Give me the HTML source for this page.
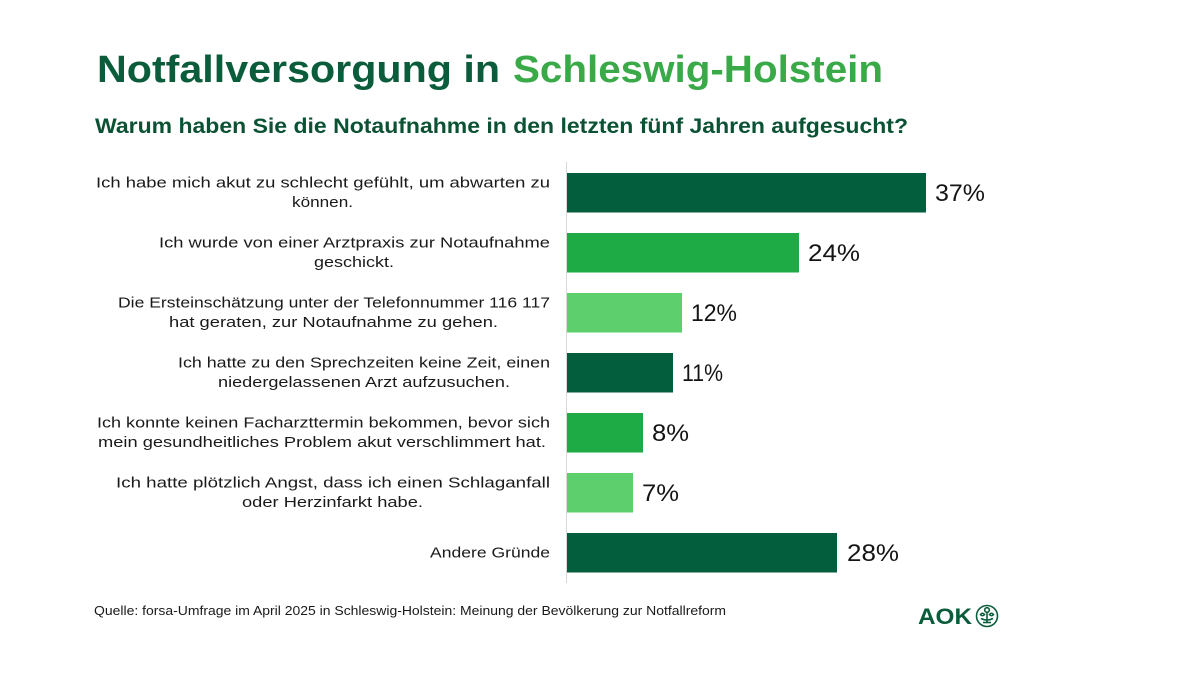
<!DOCTYPE html>
<html>
<head>
<meta charset="utf-8">
<style>
  html, body { margin: 0; padding: 0; background: #ffffff; }
  svg { display: block; }
  text { font-family: "Liberation Sans", "DejaVu Sans", sans-serif; }
</style>
</head>
<body>
<svg width="1200" height="675" viewBox="0 0 1200 675" xmlns="http://www.w3.org/2000/svg">
  <rect x="0" y="0" width="1200" height="675" fill="#ffffff"/>

  <!-- Title -->
  <text x="97" y="82" font-size="38" font-weight="bold" fill="#0A5C3A" textLength="403" lengthAdjust="spacingAndGlyphs">Notfallversorgung in</text>
  <text x="513" y="82" font-size="38" font-weight="bold" fill="#3AAA49" textLength="370" lengthAdjust="spacingAndGlyphs">Schleswig-Holstein</text>

  <!-- Subtitle -->
  <text x="95" y="133" font-size="21" font-weight="bold" fill="#0B5234" textLength="813" lengthAdjust="spacingAndGlyphs">Warum haben Sie die Notaufnahme in den letzten fünf Jahren aufgesucht?</text>

  <!-- Axis line -->
  <line x1="566.5" y1="162" x2="566.5" y2="583" stroke="#d9d9d9" stroke-width="1"/>

  <!-- Bars -->
  <rect x="567" y="173" width="359" height="39.5" fill="#035E3E"/>
  <rect x="567" y="233" width="232" height="39.5" fill="#1EAA45"/>
  <rect x="567" y="293" width="115" height="39.5" fill="#5ECF6D"/>
  <rect x="567" y="353" width="106" height="39.5" fill="#035E3E"/>
  <rect x="567" y="413" width="76" height="39.5" fill="#1EAA45"/>
  <rect x="567" y="473" width="66" height="39.5" fill="#5ECF6D"/>
  <rect x="567" y="533" width="270" height="39.5" fill="#035E3E"/>

  <!-- Value labels -->
  <g font-size="24" fill="#141414">
    <text x="935" y="201" textLength="50" lengthAdjust="spacingAndGlyphs">37%</text>
    <text x="808" y="261" textLength="52" lengthAdjust="spacingAndGlyphs">24%</text>
    <text x="691" y="321" textLength="46" lengthAdjust="spacingAndGlyphs">12%</text>
    <text x="682" y="381" textLength="41" lengthAdjust="spacingAndGlyphs">11%</text>
    <text x="652" y="441" textLength="37" lengthAdjust="spacingAndGlyphs">8%</text>
    <text x="642" y="501" textLength="37" lengthAdjust="spacingAndGlyphs">7%</text>
    <text x="847" y="561" textLength="52" lengthAdjust="spacingAndGlyphs">28%</text>
  </g>

  <!-- Category labels -->
  <g font-size="15" fill="#1a1a1a">
    <text x="96" y="187.5" textLength="454" lengthAdjust="spacingAndGlyphs">Ich habe mich akut zu schlecht gefühlt, um abwarten zu</text>
    <text x="292" y="207" textLength="61" lengthAdjust="spacingAndGlyphs">können.</text>

    <text x="159" y="247.5" textLength="391" lengthAdjust="spacingAndGlyphs">Ich wurde von einer Arztpraxis zur Notaufnahme</text>
    <text x="314" y="267" textLength="80" lengthAdjust="spacingAndGlyphs">geschickt.</text>

    <text x="118" y="307.5" textLength="432" lengthAdjust="spacingAndGlyphs">Die Ersteinschätzung unter der Telefonnummer 116 117</text>
    <text x="169" y="327" textLength="329" lengthAdjust="spacingAndGlyphs">hat geraten, zur Notaufnahme zu gehen.</text>

    <text x="178" y="367.5" textLength="372" lengthAdjust="spacingAndGlyphs">Ich hatte zu den Sprechzeiten keine Zeit, einen</text>
    <text x="218" y="387" textLength="292" lengthAdjust="spacingAndGlyphs">niedergelassenen Arzt aufzusuchen.</text>

    <text x="97" y="427.5" textLength="453" lengthAdjust="spacingAndGlyphs">Ich konnte keinen Facharzttermin bekommen, bevor sich</text>
    <text x="98" y="447" textLength="448" lengthAdjust="spacingAndGlyphs">mein gesundheitliches Problem akut verschlimmert hat.</text>

    <text x="116" y="487.5" textLength="434" lengthAdjust="spacingAndGlyphs">Ich hatte plötzlich Angst, dass ich einen Schlaganfall</text>
    <text x="242" y="507" textLength="181" lengthAdjust="spacingAndGlyphs">oder Herzinfarkt habe.</text>

    <text x="430" y="557.5" textLength="120" lengthAdjust="spacingAndGlyphs">Andere Gründe</text>
  </g>

  <!-- Footer -->
  <text x="94" y="615" font-size="12.5" fill="#1a1a1a" textLength="632" lengthAdjust="spacingAndGlyphs">Quelle: forsa-Umfrage im April 2025 in Schleswig-Holstein: Meinung der Bevölkerung zur Notfallreform</text>

  <!-- AOK logo -->
  <text x="918" y="624" font-size="22" font-weight="bold" fill="#0A5C3A" textLength="54" lengthAdjust="spacingAndGlyphs">AOK</text>
  <g fill="none" stroke="#0A5C3A" stroke-width="1.6">
    <circle cx="987" cy="616" r="10.5"/>
    <circle cx="987" cy="610" r="2.3"/>
    <path d="M980.5 614.5 q2 -2.5 4 0 q-2 2.5 -4 0 z"/>
    <path d="M989.5 614.5 q2 -2.5 4 0 q-2 2.5 -4 0 z"/>
    <path d="M987 612.5 v10"/>
    <path d="M981 618.5 q6 3 12 0"/>
    <path d="M983 622.5 h8"/>
  </g>
</svg>
</body>
</html>
